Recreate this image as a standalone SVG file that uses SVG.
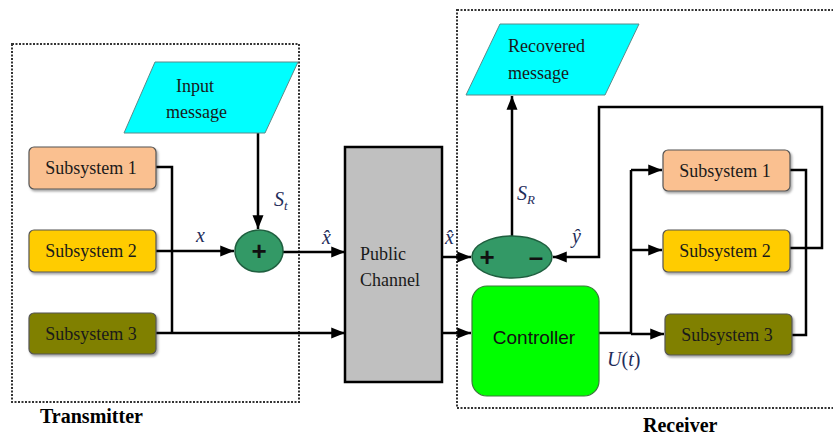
<svg xmlns="http://www.w3.org/2000/svg" width="833" height="435" viewBox="0 0 833 435">
<defs>
<marker id="ah" viewBox="0 0 10 10" refX="10" refY="5" markerWidth="5.5" markerHeight="5.5" orient="auto" markerUnits="strokeWidth">
<path d="M0,1 L10,5 L0,9 z" fill="#000"/>
</marker>
<filter id="sh" x="-10%" y="-10%" width="130%" height="140%">
<feDropShadow dx="1.5" dy="2" stdDeviation="1" flood-color="#000" flood-opacity="0.35"/>
</filter>
<style>
.serif{font-family:"Liberation Serif","Times New Roman",serif;}
.sans{font-family:"Liberation Sans",Arial,sans-serif;}
.sub{stroke:#555;stroke-width:1.2;filter:url(#sh);}
.lbl{font-size:18px;fill:#1a1a1a;}
.math{font-size:20px;font-style:italic;fill:#1f2d5a;}
.conn{fill:none;stroke:#000;stroke-width:2.5;}
.arr{marker-end:url(#ah);}
.frame{fill:none;stroke:#333;stroke-width:2;stroke-dasharray:2,1.5;}
.para{fill:#00FFFF;stroke:#5a8a8a;stroke-width:1;}
.sum{fill:#339966;stroke:#1f5f3f;stroke-width:1.5;}
.sign{font-size:26px;font-weight:bold;fill:#111;}
</style>
</defs>
<rect width="833" height="435" fill="#fff"/>

<g id="transmitter-frame">
<rect class="frame" x="12" y="44" width="287" height="358"/>
<text class="serif" x="40" y="423" font-size="20" font-weight="bold">Transmitter</text>
</g>
<g id="receiver-frame">
<rect class="frame" x="457" y="10" width="390" height="398"/>
<text class="serif" x="643" y="432" font-size="20" font-weight="bold">Receiver</text>
</g>

<g id="connectors">
<polyline class="conn" points="156,167 172,167 172,333"/>
<polyline class="conn arr" points="156,333 345,333"/>
<polyline class="conn arr" points="156,251 234,251"/>
<polyline class="conn arr" points="258,133 258,229"/>
<polyline class="conn arr" points="283,252 345,252"/>
<polyline class="conn arr" points="442,257 471,257"/>
<polyline class="conn arr" points="442,333 471,333"/>
<polyline class="conn arr" points="512,236 512,96"/>
<polyline class="conn arr" points="790,248 822,248 822,107 599,107 599,257 553,257"/>
<polyline class="conn" points="599,333 631,333 631,170"/>
<polyline class="conn arr" points="631,170 662,170"/>
<polyline class="conn arr" points="631,250 662,250"/>
<polyline class="conn arr" points="631,334 664,334"/>
<polyline class="conn" points="790,170 806,170 806,335 792,335"/>
</g>

<g id="input-message">
<polygon class="para" points="155,62 298,62 265,133 124,133"/>
<text class="serif lbl" x="176" y="92">Input</text>
<text class="serif lbl" x="166" y="118">message</text>
</g>

<g id="t-sub1">
<rect class="sub" x="29" y="147" width="127" height="42" rx="5" fill="#FAC090"/>
<text class="serif lbl" x="91" y="174" text-anchor="middle">Subsystem 1</text>
</g>
<g id="t-sub2">
<rect class="sub" x="29" y="230" width="127" height="42" rx="5" fill="#FFCC00"/>
<text class="serif lbl" x="91" y="257" text-anchor="middle">Subsystem 2</text>
</g>
<g id="t-sub3">
<rect class="sub" x="29" y="313" width="127" height="41" rx="5" fill="#808000"/>
<text class="serif lbl" x="91" y="340" text-anchor="middle">Subsystem 3</text>
</g>

<g id="adder">
<ellipse class="sum" cx="259" cy="251" rx="24" ry="21"/>
<text class="sans sign" x="259" y="260" text-anchor="middle">+</text>
</g>

<g id="labels-t">
<text class="serif math" x="196" y="242">x</text>
<text class="serif math" x="274" y="206">S<tspan font-size="13" dy="4">t</tspan></text>
<text class="serif math" x="322" y="244">x̂</text>
<text class="serif math" x="445" y="244">x̂</text>
</g>

<g id="public-channel">
<rect x="345" y="147" width="97" height="235" fill="#C0C0C0" stroke="#000" stroke-width="2.5"/>
<text class="serif lbl" x="360" y="260">Public</text>
<text class="serif lbl" x="360" y="286">Channel</text>
</g>

<g id="recovered-message">
<polygon class="para" points="500,24 639,24 605,95 466,95"/>
<text class="serif lbl" x="508" y="52">Recovered</text>
<text class="serif lbl" x="508" y="79">message</text>
</g>

<g id="subtractor">
<ellipse class="sum" cx="512" cy="257" rx="40" ry="21"/>
<text class="sans sign" x="487" y="266" text-anchor="middle">+</text>
<text class="sans sign" x="536" y="266" text-anchor="middle">–</text>
</g>

<g id="labels-r">
<text class="serif math" x="517" y="200">S<tspan font-size="13" dy="4">R</tspan></text>
<text class="serif math" x="572" y="243">ŷ</text>
<text class="serif math" x="607" y="366">U<tspan font-style="normal">(</tspan>t<tspan font-style="normal">)</tspan></text>
</g>

<g id="controller">
<rect x="472" y="286" width="127" height="110" rx="15" fill="#00FF00" stroke="#3a7a3a" stroke-width="1.2"/>
<text class="sans" x="534" y="344" font-size="19" text-anchor="middle" fill="#111">Controller</text>
</g>

<g id="r-sub1">
<rect class="sub" x="663" y="150" width="127" height="41" rx="5" fill="#FAC090"/>
<text class="serif lbl" x="725" y="177" text-anchor="middle">Subsystem 1</text>
</g>
<g id="r-sub2">
<rect class="sub" x="663" y="230" width="127" height="42" rx="5" fill="#FFCC00"/>
<text class="serif lbl" x="725" y="257" text-anchor="middle">Subsystem 2</text>
</g>
<g id="r-sub3">
<rect class="sub" x="665" y="314" width="127" height="41" rx="5" fill="#808000"/>
<text class="serif lbl" x="727" y="341" text-anchor="middle">Subsystem 3</text>
</g>
</svg>
